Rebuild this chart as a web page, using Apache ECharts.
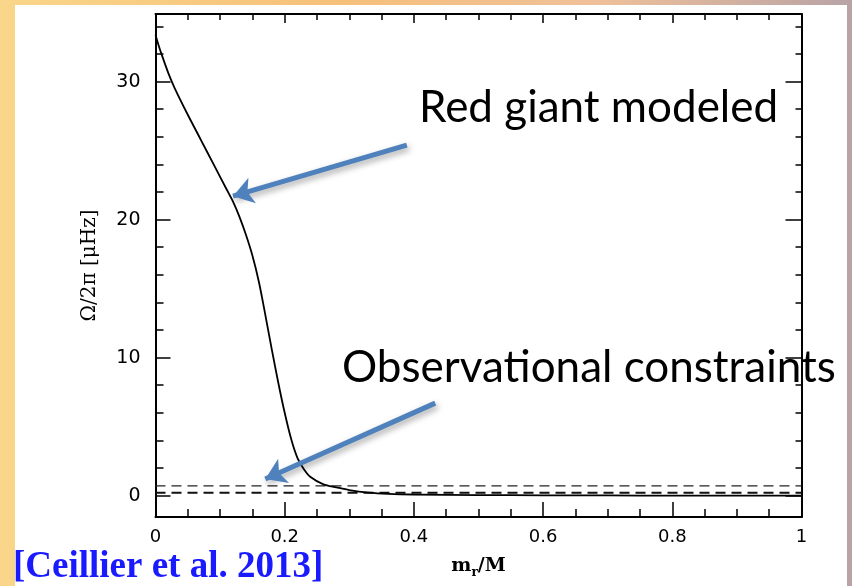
<!DOCTYPE html>
<html><head><meta charset="utf-8">
<script src="https://cdn.jsdelivr.net/npm/echarts@6/dist/echarts.min.js"></script>
<style>html,body{margin:0;padding:0;background:#fff}#c{width:852px;height:586px}</style>
</head><body><div id="c"></div>
<script>
// Data
var massFraction = [0, 0.005, 0.01, 0.02, 0.03, 0.05, 0.07, 0.09, 0.11, 0.12, 0.13, 0.14, 0.15, 0.16, 0.17, 0.18, 0.19, 0.20, 0.21, 0.22, 0.23, 0.24, 0.26, 0.28, 0.30, 0.33, 0.36, 0.40, 0.50, 0.60, 0.70, 0.80, 0.90, 1.0];
var omega = [33.4, 32.6, 31.9, 30.6, 29.5, 27.6, 25.8, 24.0, 22.2, 21.3, 20.2, 18.9, 17.4, 15.5, 13.1, 10.6, 8.2, 6.0, 4.1, 2.7, 1.9, 1.35, 0.82, 0.6, 0.4, 0.22, 0.13, 0.08, 0.04, 0.02, 0.01, 0.0, 0.0, 0.0];
var constraintUpper = 0.71;
var constraintLower = 0.2;
var xTicks = [0, 0.2, 0.4, 0.6, 0.8, 1];
var yMajorTicks = [0, 10, 20, 30];
var yMinorTicks = [2, 4, 6, 8, 12, 14, 16, 18, 22, 24, 26, 28, 32, 34];
var arrowRed = [[0.389, 25.4], [0.12, 21.7]];
var arrowObs = [[0.433, 6.7], [0.17, 1.2]];
var labelRed = 'Red giant modeled';
var labelObs = 'Observational constraints';
var citation = '[Ceillier et al. 2013]';

var curve = massFraction.map(function (x, i) { return [x, omega[i]]; });
var chart = echarts.init(document.getElementById('c'));
var YMIN = -1.55, YMAX = 34.9;
var lineBlack = { color: '#000', width: 2 };
function yAx(pos, vals, len, labels, extra) {
  var a = {
    type: 'value', position: pos, min: YMIN, max: YMAX,
    splitLine: { show: false },
    axisLine: { show: !!extra, onZero: false, lineStyle: lineBlack },
    axisTick: { show: true, inside: true, length: len, customValues: vals, lineStyle: { color: '#000', width: 1.5 } },
    axisLabel: labels ? { show: true, customValues: vals, margin: 15, color: '#000', fontFamily: 'DejaVu Sans', fontSize: 19 } : { show: false }
  };
  if (extra) Object.assign(a, extra);
  return a;
}
var option = {
  backgroundColor: 'transparent',
  animation: false,
  graphic: [
    { type: 'rect', z: -10, silent: true, shape: { x: 0, y: 0, width: 852, height: 586 },
      style: { fill: new echarts.graphic.LinearGradient(0, 0, 1, 0, [
        { offset: 0, color: '#f9d68a' }, { offset: 0.4, color: '#f6c07a' }, { offset: 0.7, color: '#efc09a' }, { offset: 1, color: '#b8a3a6' }]) } },
    { type: 'rect', z: -9, silent: true, shape: { x: 15, y: 5, width: 832, height: 581 }, style: { fill: '#fff' } },
    { type: 'text', z: 10, left: 419, top: 86, style: { text: labelRed, fontFamily: 'Lato', fontSize: 44, fill: '#000' } },
    { type: 'text', z: 10, left: 342, top: 346, style: { text: labelObs, fontFamily: 'Lato', fontSize: 44, fill: '#000' } },
    { type: 'text', z: 10, left: 13, top: 549, style: { text: citation, fontFamily: 'Liberation Serif', fontWeight: 'bold', fontSize: 37, fill: '#1a1aff' } }
  ],
  grid: { left: 155.5, right: 50.5, top: 14, bottom: 69, containLabel: false },
  xAxis: [
    { type: 'value', position: 'bottom', min: 0, max: 1, interval: 0.2,
      splitLine: { show: false },
      axisLine: { onZero: false, lineStyle: lineBlack },
      axisTick: { inside: true, length: 15, lineStyle: { color: '#000', width: 1.5 } },
      minorTick: { show: true, splitNumber: 4, length: 8, lineStyle: { color: '#000', width: 1.5 } },
      axisLabel: { margin: 11, color: '#000', fontFamily: 'DejaVu Sans', fontSize: 18 },
      name: '{m|m}{r|r}{m|/M}', nameLocation: 'middle', nameGap: 36,
      nameTextStyle: { rich: {
        m: { fontFamily: 'DejaVu Serif', fontWeight: 'bold', fontSize: 19, color: '#000', lineHeight: 26, verticalAlign: 'middle' },
        r: { fontFamily: 'DejaVu Serif', fontWeight: 'bold', fontSize: 12, color: '#000', lineHeight: 26, verticalAlign: 'bottom' } } } },
    { type: 'value', position: 'top', min: 0, max: 1, interval: 0.2,
      splitLine: { show: false },
      axisLine: { onZero: false, lineStyle: lineBlack },
      axisTick: { inside: true, length: 9, lineStyle: { color: '#000', width: 1.5 } },
      minorTick: { show: true, splitNumber: 4, length: 6, lineStyle: { color: '#000', width: 1.5 } },
      axisLabel: { show: false } }
  ],
  yAxis: [
    yAx('left', yMajorTicks, 15, true, { name: 'Ω/2π [μHz]', nameLocation: 'middle', nameGap: 56,
      nameTextStyle: { fontFamily: 'DejaVu Serif', fontSize: 20, color: '#000' } }),
    yAx('left', yMinorTicks, 8, false),
    yAx('right', yMajorTicks, 16, false, { splitLine: { show: false } }),
    yAx('right', yMinorTicks, 6, false)
  ],
  series: [
    { type: 'line', data: curve, xAxisIndex: 0, yAxisIndex: 0, showSymbol: false, smooth: 0.3,
      lineStyle: { color: '#000', width: 1.8 }, z: 3,
      markLine: { silent: true, symbol: ['none', 'arrow'], symbolSize: 20, label: { show: false },
        lineStyle: { color: '#4f81bd', width: 5, type: 'solid', shadowBlur: 6, shadowColor: 'rgba(0,0,0,0.35)', shadowOffsetX: 2, shadowOffsetY: 3 },
        itemStyle: { color: '#4f81bd' },
        emphasis: { disabled: true },
        data: [
          [{ coord: arrowRed[0] }, { coord: arrowRed[1] }],
          [{ coord: arrowObs[0] }, { coord: arrowObs[1] }]
        ] } },
    { type: 'line', data: [[0, constraintUpper], [1, constraintUpper]], showSymbol: false,
      lineStyle: { color: '#222', width: 1.3, type: [10, 6] }, z: 2 },
    { type: 'line', data: [[0, constraintLower], [1, constraintLower]], showSymbol: false,
      lineStyle: { color: '#111', width: 2, type: [10, 6] }, z: 2 }
  ]
};
chart.setOption(option);
</script></body></html>
